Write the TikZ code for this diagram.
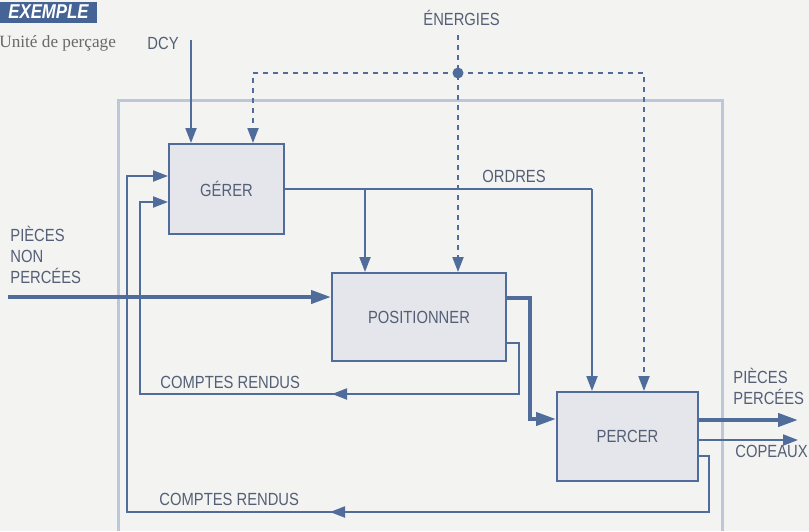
\documentclass[tikz,border=0pt]{standalone}
\usepackage{fontspec}
\setmainfont{Liberation Sans}[FakeStretch=0.84]
\newfontfamily\serifpage{Liberation Serif}
\usepackage{tikz}
\usetikzlibrary{arrows.meta}
\definecolor{trait}{RGB}{80,108,155}
\definecolor{texte}{RGB}{84,95,118}
\definecolor{boite}{RGB}{228,230,235}
\definecolor{cadre}{RGB}{188,199,217}
\definecolor{papier}{RGB}{243,243,241}
\definecolor{bandeau}{RGB}{70,99,150}
\definecolor{gris}{RGB}{105,105,105}

\begin{document}
\begin{tikzpicture}[x=0.5pt,y=-0.5pt,
  fonte/.style={font=\fontsize{8.8}{10.5}\selectfont,text=texte},
  bloc/.style={fonte,draw=trait,fill=boite,line width=1pt,inner sep=0pt},
  lbl/.style={fonte,inner sep=0pt,anchor=base west},
  lien/.style={draw=trait,line width=1pt},
  fl/.style={lien,-{Triangle[length=7.5pt,width=5.5pt]}},
  gros/.style={lien,line width=2pt,-{Triangle[length=10pt,width=6.5pt]}},
  nrj/.style={fl,dash pattern=on 2.5pt off 2.5pt}]
  \fill[papier] (0,0) rectangle (809,531);
  \useasboundingbox (0,0) rectangle (809,531);
  % cadre de l'unite
  \draw[cadre,line width=1.5pt] (118,531) -- (118,100) -- (722,100) -- (722,531);

  \node[fill=bandeau,text=white,font=\fontsize{10}{11}\selectfont\bfseries\itshape,inner sep=0pt,minimum width=48.5pt,minimum height=10.5pt] (ex) at (48.5,12) {EXEMPLE};
  \node[font=\serifpage\fontsize{8.6}{10}\selectfont,text=gris,inner sep=0pt,anchor=base west] (unite) at (-1,47) {Unité de perçage};

  % fonctions
  \node[bloc,minimum width=57.5pt,minimum height=45pt] (ger) at (226.5,189) {GÉRER};
  \node[bloc,minimum width=87pt,minimum height=44pt] (pos) at (419,317) {POSITIONNER};
  \node[bloc,minimum width=70.5pt,minimum height=44.5pt] (per) at (627.5,436.5) {PERCER};

  % textes
  \node[lbl] (tdcy) at (147,49) {DCY};
  \node[lbl] (tnrj) at (423,25) {ÉNERGIES};
  \node[lbl] (tord) at (482,182) {ORDRES};
  \node[lbl,align=left,anchor=north west] (tpnp) at (10,226) {PIÈCES\\NON\\PERCÉES};
  \node[lbl] (tcr1) at (160,388) {COMPTES RENDUS};
  \node[lbl] (tcr2) at (159,505) {COMPTES RENDUS};
  \node[lbl,align=left,anchor=north west] (tpp) at (733,368) {PIÈCES\\PERCÉES};
  \node[lbl] (tcop) at (735,457) {COPEAUX};

  % controles
  \coordinate (dcy) at (191,40);
  \draw[fl] (dcy) -- (dcy |- ger.north);
  \node[circle,fill=trait,inner sep=0pt,minimum size=5.5pt] (noeud) at (458,73) {};
  \coordinate (nrjh) at (458,35);
  \coordinate (nrjg) at (253,73);
  \coordinate (nrjd) at (644,73);
  \draw[nrj] (nrjh) -- (nrjh |- pos.north);
  \draw[nrj] (noeud.center) -- (nrjg) -- (nrjg |- ger.north);
  \draw[nrj] (noeud.center) -- (nrjd) -- (nrjd |- per.north);
  \coordinate (ordg) at (365,189);
  \coordinate (ordd) at (592,189);
  \draw[lien] (ger.east) -- (ordd);
  \draw[fl] (ordg) -- (ordg |- pos.north);
  \draw[fl] (ordd) -- (ordd |- per.north);

  % flux de matiere
  \coordinate (entree) at (8,297);
  \draw[gros] (entree) -- (entree -| pos.west);
  \coordinate (sortie) at (530,298);
  \coordinate (descente) at (530,419);
  \draw[gros] (pos.east |- sortie) -- (sortie) -- (descente) -- (descente -| per.west);
  \coordinate (spp) at (798,420);
  \draw[gros] (per.east |- spp) -- (spp);
  \coordinate (scop) at (798,440);
  \draw[fl] (per.east |- scop) -- (scop);

  % comptes rendus
  \coordinate (cr1a) at (519,343);
  \coordinate (cr1b) at (519,394);
  \coordinate (cr1c) at (140,394);
  \coordinate (cr1d) at (140,202);
  \coordinate (cr1m) at (332,394);
  \draw[fl] (pos.east |- cr1a) -- (cr1a) -- (cr1b) -- (cr1c) -- (cr1d) -- (cr1d -| ger.west);
  \draw[fl] (cr1b) -- (cr1m);
  \coordinate (cr2a) at (709,456);
  \coordinate (cr2b) at (709,512);
  \coordinate (cr2c) at (127,512);
  \coordinate (cr2d) at (127,176);
  \coordinate (cr2m) at (330,512);
  \draw[fl] (per.east |- cr2a) -- (cr2a) -- (cr2b) -- (cr2c) -- (cr2d) -- (cr2d -| ger.west);
  \draw[fl] (cr2b) -- (cr2m);
\end{tikzpicture}
\end{document}
